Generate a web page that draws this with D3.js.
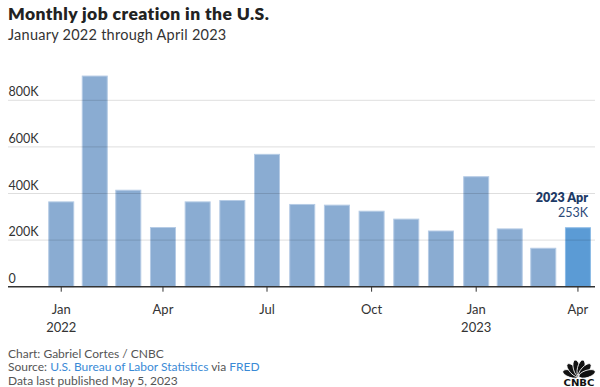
<!DOCTYPE html>
<html>
<head>
<meta charset="utf-8">
<script src="https://cdn.jsdelivr.net/npm/d3@7"></script>
<style>
  body { margin: 0; background: #fff; }
  svg { display: block; font-family: Lato, "Open Sans", sans-serif; }
</style>
</head>
<body>
<svg width="600" height="387"></svg>
<script>
// monthly nonfarm payroll change, Jan 2022 .. Apr 2023
const months = ['2022-01', '2022-02', '2022-03', '2022-04', '2022-05', '2022-06', '2022-07', '2022-08',
  '2022-09', '2022-10', '2022-11', '2022-12', '2023-01', '2023-02', '2023-03', '2023-04'];
const jobs = [364000, 904000, 414000, 254000, 364000, 370000, 568000, 353000,
  350000, 324000, 290000, 239000, 472000, 248000, 165000, 253000];
const yTicks = [0, 200000, 400000, 600000, 800000];
const xTickMonths = ['2022-01', '2022-04', '2022-07', '2022-10', '2023-01', '2023-04'];

const parse = d3.timeParse('%Y-%m');
const data = months.map((m, i) => ({ date: parse(m), value: jobs[i] }));
const mid = d => new Date((+d + +d3.timeMonth.offset(d, 1)) / 2);

const svg = d3.select('svg');

const x = d3.scaleTime()
  .domain([parse('2022-01'), parse('2023-05')])
  .range([43.6, 595]);
const y = d3.scaleLinear()
  .domain([0, 800000])
  .range([286.7, 100.3]);

const fmt = v => v === 0 ? '0' : (v / 1000) + 'K';

// title block
svg.append('text')
  .attr('x', 8).attr('y', 19.5)
  .attr('font-size', 17.5).attr('font-weight', 800).attr('fill', '#222')
  .attr('letter-spacing', 0.4)
  .text('Monthly job creation in the U.S.');
svg.append('text')
  .attr('x', 8).attr('y', 40)
  .attr('font-size', 14.5).attr('fill', '#333')
  .attr('letter-spacing', 0.25)
  .text('January 2022 through April 2023');

// bars
const barW = 25;
svg.append('g').selectAll('rect')
  .data(data)
  .join('rect')
  .attr('x', d => x(mid(d.date)) - barW / 2)
  .attr('width', barW)
  .attr('y', d => y(d.value))
  .attr('height', d => y(0) - y(d.value))
  .attr('fill', (d, i) => i === data.length - 1 ? '#5b9bd5' : '#8aacd2')
  .attr('stroke', (d, i) => i === data.length - 1 ? '#8cbbe6' : '#b5cbe5')
  .attr('stroke-width', 1);

// gridlines + y labels
const grid = svg.append('g');
grid.selectAll('line')
  .data(yTicks.filter(v => v > 0))
  .join('line')
  .attr('x1', 8).attr('x2', 595)
  .attr('y1', d => y(d)).attr('y2', d => y(d))
  .attr('stroke', '#000').attr('stroke-opacity', 0.13).attr('stroke-width', 1);
grid.selectAll('text')
  .data(yTicks)
  .join('text')
  .attr('x', 8.5)
  .attr('y', d => y(d) - 4)
  .attr('font-size', 12.5).attr('fill', '#333')
  .text(fmt);

// x axis
const xAxis = svg.append('g').attr('transform', 'translate(0,' + y(0) + ')');
xAxis.append('line')
  .attr('x1', 8).attr('x2', 595)
  .attr('stroke', '#333').attr('stroke-width', 1.5);
const ticks = xAxis.selectAll('g.tick')
  .data(xTickMonths.map(parse))
  .join('g')
  .attr('class', 'tick')
  .attr('transform', d => 'translate(' + x(mid(d)) + ',0)');
ticks.append('line').attr('y2', 5).attr('stroke', '#333').attr('stroke-width', 1);
ticks.append('text')
  .attr('y', 27.5).attr('text-anchor', 'middle')
  .attr('font-size', 13).attr('fill', '#333')
  .text(d3.timeFormat('%b'));
ticks.filter(d => d.getMonth() === 0).append('text')
  .attr('y', 45.5).attr('text-anchor', 'middle')
  .attr('font-size', 13).attr('fill', '#333')
  .text(d3.timeFormat('%Y'));

// annotation for latest month
const last = data[data.length - 1];
svg.append('text')
  .attr('x', 588).attr('y', 201.8).attr('text-anchor', 'end')
  .attr('font-size', 12.5).attr('font-weight', 800).attr('fill', '#1d3a66')
  .text(d3.timeFormat('%Y %b')(last.date));
svg.append('text')
  .attr('x', 588).attr('y', 217).attr('text-anchor', 'end')
  .attr('font-size', 12.5).attr('fill', '#2c4a78')
  .text(fmt(last.value));

// footer
const foot = svg.append('g').attr('font-size', 12).attr('fill', '#555');
foot.append('text').attr('x', 8).attr('y', 357.5).text('Chart: Gabriel Cortes / CNBC');
const src = foot.append('text').attr('x', 8).attr('y', 371);
src.append('tspan').text('Source: ');
src.append('tspan').attr('fill', '#3a8ad6').text('U.S. Bureau of Labor Statistics');
src.append('tspan').text(' via ');
src.append('tspan').attr('fill', '#3a8ad6').text('FRED');
foot.append('text').attr('x', 8).attr('y', 384.5).text('Data last published May 5, 2023');

// CNBC peacock mark
const logo = svg.append('g').attr('transform', 'translate(579,376.5)');
[-72, -43, -14, 14, 43, 72].forEach(a => {
  logo.append('ellipse')
    .attr('cx', 0).attr('cy', -8.5).attr('rx', 3.6).attr('ry', 8.5)
    .attr('transform', 'rotate(' + a + ')')
    .attr('fill', '#111').attr('stroke', '#fff').attr('stroke-width', 0.8);
});
logo.append('text')
  .attr('y', 9).attr('text-anchor', 'middle')
  .attr('font-size', 8).attr('font-weight', 900).attr('fill', '#111')
  .attr('font-family', '"DejaVu Sans", sans-serif')
  .attr('textLength', 31).attr('lengthAdjust', 'spacingAndGlyphs')
  .text('CNBC');
</script>
</body>
</html>
